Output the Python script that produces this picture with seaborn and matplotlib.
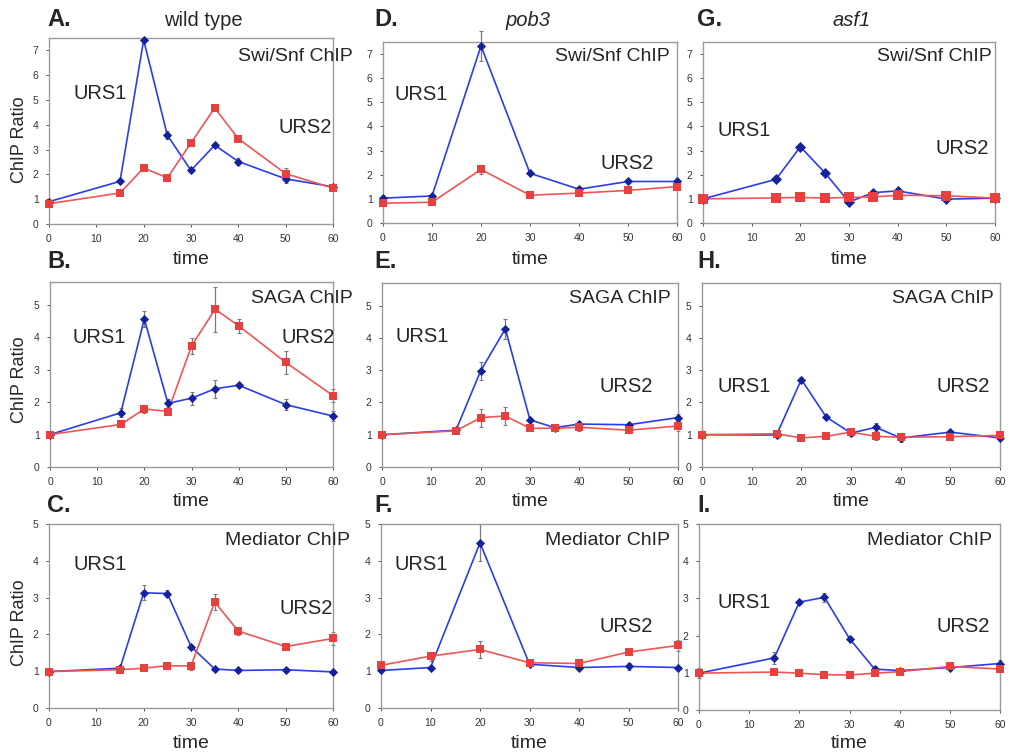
"""
ChIP time courses at URS1 / URS2 (wild type, pob3, asf1) - 3x3 panel figure.
"""

import pandas as pd
import matplotlib
matplotlib.use("Agg")
import matplotlib.pyplot as plt
import seaborn as sns

# ---- data -----------------------------------------------------------------
times_9 = [0, 15, 20, 25, 30, 35, 40, 50, 60]
times_7 = [0, 10, 20, 30, 40, 50, 60]

# wild type
wt_swi_urs1 = [0.90, 1.72, 7.42, 3.58, 2.16, 3.18, 2.52, 1.82, 1.50]
wt_swi_urs1_err = [0.05, 0.08, 0.05, 0.15, 0.05, 0.05, 0.13, 0.17, 0.05]
wt_swi_urs2 = [0.82, 1.25, 2.26, 1.86, 3.27, 4.68, 3.44, 2.03, 1.45]
wt_swi_urs2_err = [0.03, 0.05, 0.05, 0.05, 0.05, 0.05, 0.05, 0.22, 0.05]

wt_saga_urs1 = [1.00, 1.67, 4.56, 1.96, 2.12, 2.41, 2.52, 1.92, 1.57]
wt_saga_urs1_err = [0.03, 0.14, 0.25, 0.12, 0.20, 0.27, 0.05, 0.17, 0.15]
wt_saga_urs2 = [1.00, 1.31, 1.79, 1.71, 3.73, 4.86, 4.35, 3.22, 2.20]
wt_saga_urs2_err = [0.03, 0.05, 0.12, 0.12, 0.26, 0.70, 0.22, 0.34, 0.20]

wt_med_urs1 = [0.99, 1.08, 3.13, 3.11, 1.67, 1.06, 1.02, 1.04, 0.98]
wt_med_urs1_err = [0.03, 0.05, 0.20, 0.10, 0.05, 0.05, 0.05, 0.05, 0.05]
wt_med_urs2 = [0.99, 1.04, 1.08, 1.15, 1.14, 2.88, 2.09, 1.67, 1.89]
wt_med_urs2_err = [0.03, 0.05, 0.05, 0.09, 0.10, 0.22, 0.11, 0.05, 0.18]

# pob3
pob3_swi_urs1 = [1.03, 1.12, 7.34, 2.06, 1.40, 1.72, 1.72]
pob3_swi_urs1_err = [0.03, 0.05, 0.62, 0.05, 0.08, 0.05, 0.05]
pob3_swi_urs2 = [0.82, 0.86, 2.22, 1.15, 1.24, 1.35, 1.51]
pob3_swi_urs2_err = [0.03, 0.03, 0.17, 0.05, 0.05, 0.05, 0.05]

pob3_saga_urs1 = [1.00, 1.14, 2.98, 4.28, 1.46, 1.22, 1.33, 1.31, 1.53]
pob3_saga_urs1_err = [0.03, 0.05, 0.28, 0.30, 0.05, 0.05, 0.06, 0.05, 0.10]
pob3_saga_urs2 = [1.00, 1.12, 1.53, 1.58, 1.20, 1.20, 1.23, 1.14, 1.27]
pob3_saga_urs2_err = [0.03, 0.05, 0.28, 0.28, 0.05, 0.05, 0.10, 0.05, 0.15]

pob3_med_urs1 = [1.02, 1.10, 4.49, 1.19, 1.10, 1.13, 1.10]
pob3_med_urs1_err = [0.05, 0.05, 0.50, 0.05, 0.05, 0.10, 0.05]
pob3_med_urs2 = [1.16, 1.41, 1.59, 1.23, 1.21, 1.52, 1.70]
pob3_med_urs2_err = [0.05, 0.12, 0.22, 0.05, 0.05, 0.05, 0.15]

# asf1
asf1_swi_urs1 = [1.00, 1.81, 3.16, 2.09, 0.87, 1.26, 1.33, 0.99, 1.03]
asf1_swi_urs1_err = [0.03, 0.05, 0.05, 0.05, 0.05, 0.05, 0.05, 0.05, 0.03]
asf1_swi_urs2 = [1.00, 1.04, 1.06, 1.03, 1.06, 1.08, 1.15, 1.13, 1.03]
asf1_swi_urs2_err = [0.03, 0.03, 0.03, 0.03, 0.03, 0.03, 0.03, 0.03, 0.03]

asf1_saga_urs1 = [1.00, 0.99, 2.71, 1.55, 1.05, 1.23, 0.90, 1.08, 0.90]
asf1_saga_urs1_err = [0.10, 0.08, 0.08, 0.05, 0.08, 0.12, 0.12, 0.05, 0.05]
asf1_saga_urs2 = [1.00, 1.03, 0.90, 0.95, 1.08, 0.95, 0.92, 0.94, 0.98]
asf1_saga_urs2_err = [0.10, 0.05, 0.05, 0.05, 0.08, 0.12, 0.12, 0.05, 0.05]

asf1_med_urs1 = [0.99, 1.40, 2.90, 3.03, 1.92, 1.10, 1.06, 1.14, 1.25]
asf1_med_urs1_err = [0.13, 0.15, 0.04, 0.12, 0.05, 0.08, 0.04, 0.04, 0.10]
asf1_med_urs2 = [0.99, 1.02, 0.99, 0.95, 0.94, 0.99, 1.03, 1.17, 1.10]
asf1_med_urs2_err = [0.05, 0.03, 0.03, 0.03, 0.03, 0.03, 0.03, 0.03, 0.05]

strains = ["wild type", "pob3", "asf1"]
chips = ["Swi/Snf ChIP", "SAGA ChIP", "Mediator ChIP"]
letters = [["A.", "D.", "G."], ["B.", "E.", "H."], ["C.", "F.", "I."]]

# ---- style ----------------------------------------------------------------
sns.set_theme(style="white")
plt.rcParams["font.family"] = ["Liberation Sans", "DejaVu Sans"]

LINE = {"URS1": "#2b3cf0", "URS2": "#f05555"}
MARK = {"URS1": "#14239c", "URS2": "#e8403f"}
W, H = 1011, 755


def px_axes(fig, x0, x1, y0, y1):
    return fig.add_axes([x0 / W, 1 - y1 / H, (x1 - x0) / W, (y1 - y0) / H])


def draw_panel(ax, times, u1, e1, u2, e2, ymax, yticks, chip, txt, big=False):
    df = pd.DataFrame({
        "time": list(times) * 2,
        "ratio": list(u1) + list(u2),
        "site": ["URS1"] * len(times) + ["URS2"] * len(times),
    })
    ax.errorbar(times, u1, yerr=e1, fmt="none", ecolor="#7a7a7a",
                elinewidth=0.9, capsize=1.6, capthick=0.8, zorder=2, clip_on=False)
    ax.errorbar(times, u2, yerr=e2, fmt="none", ecolor="#7a7a7a",
                elinewidth=0.9, capsize=1.6, capthick=0.8, zorder=2, clip_on=False)
    sns.lineplot(data=df, x="time", y="ratio", hue="site", palette=LINE,
                 linewidth=1.2, legend=False, ax=ax, zorder=3)
    ms_d, ms_s = (32, 58) if big else (22, 38)
    for site, mk, ms in [("URS1", "D", ms_d), ("URS2", "s", ms_s)]:
        sub = df[df["site"] == site]
        sns.scatterplot(data=sub, x="time", y="ratio", color=MARK[site],
                        marker=mk, s=ms, linewidth=0, legend=False, ax=ax, zorder=4)
    for coll in ax.collections:
        coll.set_clip_on(False)
    for ln in ax.lines:
        ln.set_clip_on(False)

    ax.set_xlim(0, 60)
    ax.set_ylim(0, ymax)
    ax.set_xticks(range(0, 61, 10))
    ax.set_yticks(yticks)
    ax.set_xlabel("")
    ax.set_ylabel("")
    ax.tick_params(labelsize=7.5, colors="#333333", length=2.5, width=0.6,
                   direction="out", bottom=True, left=True, pad=5)
    for sp in ax.spines.values():
        sp.set_color("#9a9a9a")
        sp.set_linewidth(1.0)

    (c_x, c_y), (u1_x, u1_y), (u2_x, u2_y) = txt
    ax.text(c_x, c_y, chip, transform=ax.transAxes, ha="right", va="center",
            fontsize=14, clip_on=False)
    ax.text(u1_x, u1_y, "URS1", transform=ax.transAxes, ha="left", va="center",
            fontsize=14.5)
    ax.text(u2_x, u2_y, "URS2", transform=ax.transAxes, ha="right", va="center",
            fontsize=14.5)


fig = plt.figure(figsize=(W / 100, H / 100), dpi=100)

# pixel boxes of the nine axes: (x0, x1, y_top, y_bottom)
boxes = [
    [(49, 333, 38, 224), (383, 677, 42, 223), (703, 995, 42, 223)],
    [(50, 333, 282, 467), (382, 678, 283, 467), (702, 1000, 283, 467)],
    [(49, 333, 524, 708), (381, 678, 524, 708), (699, 1000, 524, 710)],
]

panel_data = [
    [(times_9, wt_swi_urs1, wt_swi_urs1_err, wt_swi_urs2, wt_swi_urs2_err),
     (times_7, pob3_swi_urs1, pob3_swi_urs1_err, pob3_swi_urs2, pob3_swi_urs2_err),
     (times_9, asf1_swi_urs1, asf1_swi_urs1_err, asf1_swi_urs2, asf1_swi_urs2_err)],
    [(times_9, wt_saga_urs1, wt_saga_urs1_err, wt_saga_urs2, wt_saga_urs2_err),
     (times_9, pob3_saga_urs1, pob3_saga_urs1_err, pob3_saga_urs2, pob3_saga_urs2_err),
     (times_9, asf1_saga_urs1, asf1_saga_urs1_err, asf1_saga_urs2, asf1_saga_urs2_err)],
    [(times_9, wt_med_urs1, wt_med_urs1_err, wt_med_urs2, wt_med_urs2_err),
     (times_7, pob3_med_urs1, pob3_med_urs1_err, pob3_med_urs2, pob3_med_urs2_err),
     (times_9, asf1_med_urs1, asf1_med_urs1_err, asf1_med_urs2, asf1_med_urs2_err)],
]

# text anchors in axes fraction: chip label (right edge), URS1 (left), URS2 (right)
text_pos = [
    [((1.07, 0.90), (0.085, 0.70), (0.995, 0.52)),
     ((0.975, 0.92), (0.04, 0.71), (0.92, 0.33)),
     ((0.99, 0.92), (0.05, 0.51), (0.98, 0.41))],
    [((1.07, 0.91), (0.08, 0.70), (1.005, 0.70)),
     ((0.975, 0.915), (0.045, 0.71), (0.915, 0.44)),
     ((0.98, 0.915), (0.053, 0.435), (0.965, 0.435))],
    [((1.06, 0.91), (0.085, 0.78), (1.0, 0.54)),
     ((0.973, 0.91), (0.047, 0.78), (0.916, 0.445)),
     ((0.975, 0.91), (0.06, 0.58), (0.965, 0.45))],
]

ylims = [7.5, 5.7, 5.0]
yticks = [range(0, 8), range(0, 6), range(0, 6)]
time_y = [260, 502, 743]
ratio_y = [140, 380, 623]
letter_y = [20, 262, 505]
letter_x = [47, 374, 697]

for r in range(3):
    for c in range(3):
        x0, x1, y0, y1 = boxes[r][c]
        ax = px_axes(fig, x0, x1, y0, y1)
        t, u1, e1, u2, e2 = panel_data[r][c]
        draw_panel(ax, t, u1, e1, u2, e2, ylims[r], yticks[r], chips[r],
                   text_pos[r][c], big=(r == 0 and c == 2))
        fig.text((x0 + x1) / 2 / W, 1 - time_y[r] / H, "time",
                 ha="center", va="center", fontsize=14)
        fig.text(letter_x[c] / W, 1 - letter_y[r] / H, letters[r][c],
                 ha="left", va="center", fontsize=17, fontweight="bold")
    fig.text(20 / W, 1 - ratio_y[r] / H, "ChIP Ratio", rotation=90,
             ha="center", va="center", fontsize=13)

fig.text(203 / W, 1 - 20 / H, strains[0], ha="center", va="center", fontsize=14.5)
fig.text(528 / W, 1 - 20 / H, strains[1], ha="center", va="center",
         fontsize=14.5, style="italic")
fig.text(852 / W, 1 - 20 / H, strains[2], ha="center", va="center",
         fontsize=14.5, style="italic")

fig.savefig("out.png", dpi=100)
